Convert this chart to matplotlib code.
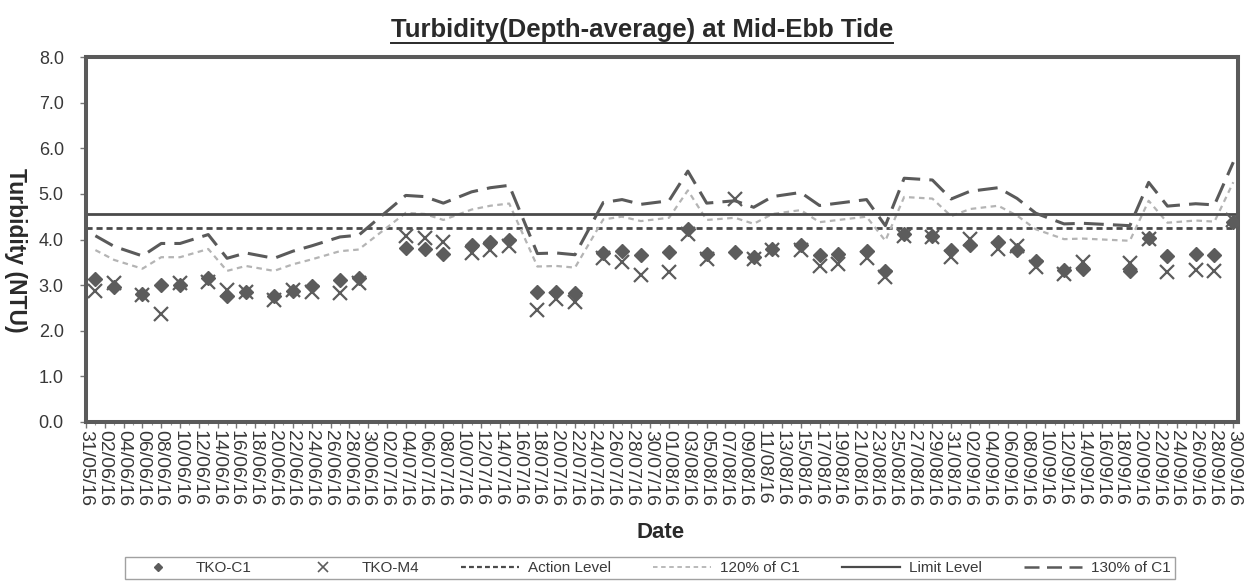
import matplotlib
matplotlib.use("Agg")
import matplotlib.pyplot as plt
import matplotlib.dates as mdates
from matplotlib.lines import Line2D
import datetime as dt
import pandas as pd

plt.rcParams['font.family'] = ['Liberation Sans', 'DejaVu Sans']

# ---------------- data ----------------
dates = ["01/06/16", "03/06/16", "06/06/16", "08/06/16", "10/06/16", "13/06/16", "15/06/16",
         "17/06/16", "20/06/16", "22/06/16", "24/06/16", "27/06/16", "29/06/16",
         "04/07/16", "06/07/16", "08/07/16", "11/07/16", "13/07/16", "15/07/16", "18/07/16",
         "20/07/16", "22/07/16", "25/07/16", "27/07/16", "29/07/16",
         "01/08/16", "03/08/16", "05/08/16", "08/08/16", "10/08/16", "12/08/16", "15/08/16",
         "17/08/16", "19/08/16", "22/08/16", "24/08/16", "26/08/16", "29/08/16", "31/08/16",
         "02/09/16", "05/09/16", "07/09/16", "09/09/16", "12/09/16", "14/09/16", "19/09/16",
         "21/09/16", "23/09/16", "26/09/16", "28/09/16", "30/09/16"]

tko_c1 = [3.14, 2.96, 2.80, 3.01, 3.01, 3.16, 2.76, 2.85, 2.76, 2.88, 2.97, 3.12, 3.15,
          3.82, 3.80, 3.69, 3.88, 3.95, 3.99, 2.84, 2.85, 2.82, 3.70, 3.75, 3.67,
          3.73, 4.23, 3.69, 3.73, 3.62, 3.80, 3.87, 3.65, 3.69, 3.75, 3.31, 4.11, 4.08, 3.76,
          3.89, 3.95, 3.77, 3.52, 3.34, 3.35, 3.31, 4.04, 3.64, 3.68, 3.66, 4.38]

tko_m4 = [2.88, 3.04, 2.78, 2.36, 3.05, 3.07, 2.89, 2.85, 2.67, 2.90, 2.84, 2.83, 3.04,
          4.07, 4.04, 3.95, 3.70, 3.77, 3.86, 2.45, 2.69, 2.63, 3.60, 3.50, 3.22,
          3.28, 4.12, 3.58, 4.88, 3.58, 3.78, 3.78, 3.41, 3.47, 3.60, 3.17, 4.08, 4.06, 3.61,
          4.02, 3.80, 3.86, 3.39, 3.25, 3.50, 3.48, 4.02, 3.29, 3.34, 3.30, 4.42]

action_level = 4.26
limit_level = 4.55
pct_120 = [1.2 * v for v in tko_c1]   # "120% of C1"
pct_130 = [1.3 * v for v in tko_c1]   # "130% of C1"

yticks = [0, 1, 2, 3, 4, 5, 6, 7, 8]

# ---------------- figure ----------------
W, H = 1250, 585
fig = plt.figure(figsize=(W / 100, H / 100), dpi=100)
ax = fig.add_axes([86 / W, 1 - 422 / H, (1238 - 86) / W, (422 - 57) / H])

x = pd.to_datetime(dates, format="%d/%m/%y")

dark = '#5c5c5c'
ax.axhline(action_level, color='#4a4a4a', lw=2.0, dashes=(2.2, 1.4), zorder=2)
ax.plot(x, pct_120, color='#b4b4b4', lw=1.6, dashes=(2.5, 2.0), zorder=2)
ax.axhline(limit_level, color='#4a4a4a', lw=2.0, zorder=2)
ax.plot(x, pct_130, color='#5a5a5a', lw=2.2, dashes=(6.5, 3), zorder=2)

ax.plot(x, tko_c1, linestyle='none', marker='D', markersize=6.8, color=dark,
        markeredgecolor=dark, zorder=3)
ax.plot(x, tko_m4, linestyle='none', marker='x', markersize=10, markeredgewidth=1.6,
        color=dark, zorder=4)

ax.set_ylim(0, 8)
ax.set_yticks(yticks)
ax.set_yticklabels([f"{v:.1f}" for v in yticks])

start = dt.datetime(2016, 5, 31)
ax.set_xlim(start, start + dt.timedelta(days=122.5))
ticks = pd.date_range("2016-05-31", "2016-09-30", freq="2D")
ax.set_xticks(ticks)
ax.set_xticklabels([t.strftime("%d/%m/%y") for t in ticks], rotation=270)
ax.xaxis.set_minor_locator(mdates.DayLocator())

ax.tick_params(axis='both', which='major', direction='out', length=4, width=1,
               color='#777777', labelcolor='#383838')
ax.tick_params(axis='x', which='major', labelsize=14, pad=2)
ax.tick_params(axis='x', which='minor', direction='out', length=2.5, width=0.8, color='#999999')
ax.tick_params(axis='y', labelsize=13, pad=12)

for s in ax.spines.values():
    s.set_linewidth(2.9)
    s.set_color('#5a5a5a')

# titles / labels
title = fig.text(642 / W, 1 - 30 / H, "Turbidity(Depth-average) at Mid-Ebb Tide",
                 ha='center', va='center', fontsize=18.5, fontweight='bold', color='#2a2a2a')
fig.text(15 / W, 1 - 250 / H, "Turbidity (NTU)", rotation=270, ha='center', va='center',
         fontsize=16.5, fontweight='bold', color='#2a2a2a')
fig.text(661 / W, 1 - 532 / H, "Date", ha='center', va='center',
         fontsize=16, fontweight='bold', color='#2a2a2a')

# underline the title
fig.canvas.draw()
bb = title.get_window_extent()
uy = bb.y0 - 1
fig.add_artist(Line2D([bb.x0 / W, bb.x1 / W], [uy / H, uy / H], color='#2a2a2a', lw=1.4,
                      transform=fig.transFigure))

# legend
handles = [
    Line2D([], [], linestyle='none', marker='D', markersize=4.5, color=dark),
    Line2D([], [], linestyle='none', marker='x', markersize=7, markeredgewidth=1.2, color=dark),
    Line2D([], [], color='#4a4a4a', lw=1.6, dashes=(2.2, 1.4)),
    Line2D([], [], color='#b4b4b4', lw=1.3, dashes=(2.5, 2.0)),
    Line2D([], [], color='#4a4a4a', lw=1.6),
    Line2D([], [], color='#5a5a5a', lw=1.8, dashes=(6, 3)),
]
labels = ["TKO-C1", "TKO-M4", "Action Level", "120% of C1", "Limit Level", "130% of C1"]
leg = fig.legend(handles, labels, loc='center', bbox_to_anchor=(650 / W, 1 - 568 / H),
                 ncol=6, frameon=True, fancybox=False, fontsize=11, handlelength=3.8,
                 handletextpad=0.6, columnspacing=2.75, borderpad=0.25, labelcolor='#3a3a3a')
leg.get_frame().set_edgecolor('#8a8a8a')
leg.get_frame().set_linewidth(1.0)

fig.savefig("out.png", dpi=100)
